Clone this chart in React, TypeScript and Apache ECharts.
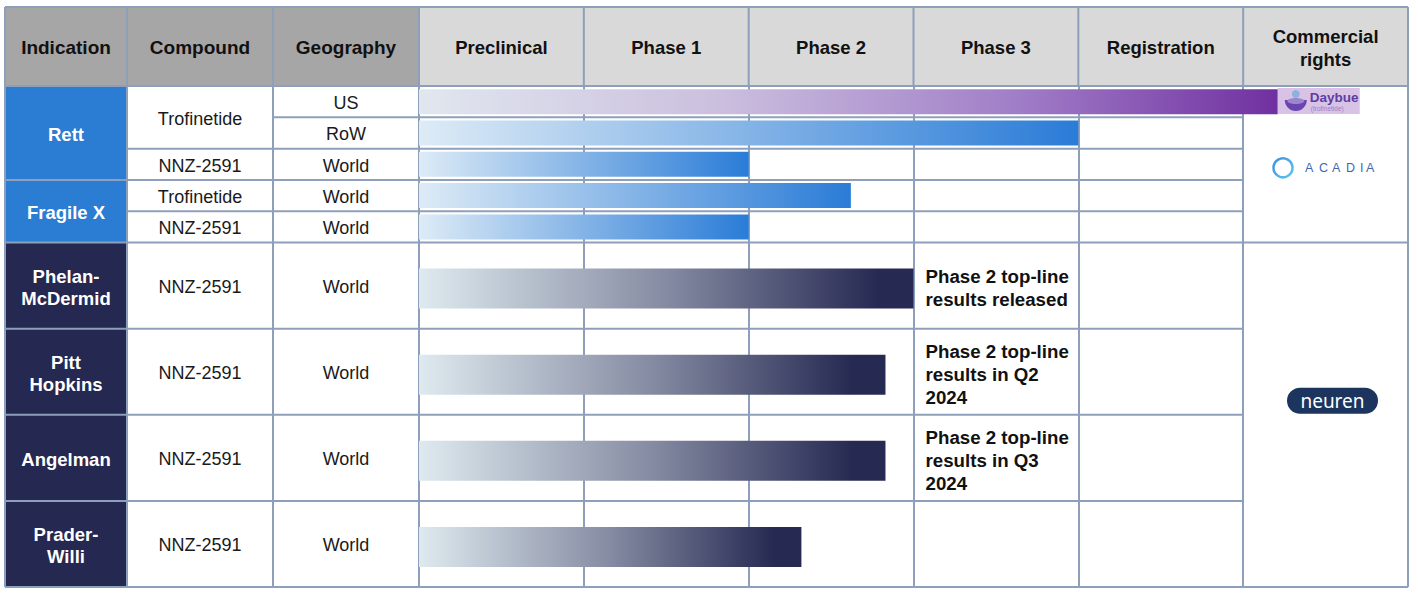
import React, { useEffect, useRef } from "react";
import * as echarts from "echarts";

// ---------- data ----------
const leftHeaders = ["Indication", "Compound", "Geography"];
const phases = ["Preclinical", "Phase 1", "Phase 2", "Phase 3", "Registration", "Commercial\nrights"];
const indications = ["Rett", "Fragile X", "Phelan-\nMcDermid", "Pitt\nHopkins", "Angelman", "Prader-\nWilli"];
const rowIndication = [0, 0, 0, 1, 1, 2, 3, 4, 5];
const rowCompound = ["Trofinetide", "Trofinetide", "NNZ-2591", "Trofinetide", "NNZ-2591", "NNZ-2591", "NNZ-2591", "NNZ-2591", "NNZ-2591"];
const rowGeography = ["US", "RoW", "World", "World", "World", "World", "World", "World", "World"];
const rowPartner = ["Acadia", "Acadia", "Acadia", "Acadia", "Acadia", "Neuren", "Neuren", "Neuren", "Neuren"];
// progress measured in phase columns (0 = start of Preclinical, 5 = start of Commercial)
const rowProgress = [5.21, 4.0, 2.0, 2.62, 2.0, 3.0, 2.83, 2.83, 2.32];
const rowNotes = [
  "", "", "", "", "",
  "Phase 2 top-line\nresults released",
  "Phase 2 top-line\nresults in Q2\n2024",
  "Phase 2 top-line\nresults in Q3\n2024",
  "",
];
const acadiaLetters = ["A", "C", "A", "D", "I", "A"];

// ---------- layout ----------
const W = 1418;
const H = 593;
const XL = [5, 127, 273, 419];
const XR = 1408;
const YT = 7;
const YH = 86;
const YB = 587;
const rowUnits = [1, 1, 1, 1, 1, 2.75, 2.75, 2.75, 2.75];
const totalUnits = rowUnits.reduce((a, b) => a + b, 0);
const unitPx = (YB - YH) / totalUnits;
const rowStart: number[] = [];
{
  let acc = 0;
  rowUnits.forEach((u) => {
    rowStart.push(acc);
    acc += u;
  });
}
const ypx = (u: number) => YH + u * unitPx;
const colW = (XR - XL[3]) / phases.length;
const PX_COMM = XL[3] + colW * 5;
const acadiaX = [1305, 1319, 1332, 1346, 1360, 1366];

const LINE = "#8E9FBB";
const FONT = '"Liberation Sans", Arial, sans-serif';
const partnerFill: Record<string, string> = { Acadia: "#2B7CD3", Neuren: "#252850" };

function buildGraphics() {
  const g: any[] = [];
  const rect = (x: number, y: number, w: number, h: number, fill: string, z = 0, r = 0) =>
    g.push({ type: "rect", z, shape: { x, y, width: w, height: h, r }, style: { fill } });
  const line = (x1: number, y1: number, x2: number, y2: number) =>
    g.push({ type: "line", z: 1, shape: { x1, y1, x2, y2 }, style: { stroke: LINE, lineWidth: 2 } });
  const text = (x: number, y: number, t: string, font: string, fill: string, lh: number, align = "center") =>
    g.push({
      type: "text",
      z: 5,
      style: {
        x, y, text: t, font, fill, lineHeight: lh,
        align, textAlign: align, verticalAlign: "middle", textVerticalAlign: "middle",
      },
    });

  // header backgrounds
  rect(XL[0], YT, XL[3] - XL[0], YH - YT, "#A6A6A6");
  rect(XL[3], YT, XR - XL[3], YH - YT, "#D9D9D9");
  leftHeaders.forEach((h, i) => {
    text((XL[i] + XL[i + 1]) / 2, (YT + YH) / 2 + 1, h, `bold 19px ${FONT}`, "#111", 23);
  });
  phases.forEach((p, i) => {
    text(XL[3] + (i + 0.5) * colW, (YT + YH) / 2 + 1, p, `bold 18.5px ${FONT}`, "#111", 23);
  });

  // indication cells
  indications.forEach((name, k) => {
    const rows = rowIndication.map((v, i) => (v === k ? i : -1)).filter((i) => i >= 0);
    const a = rows[0];
    const b = rows[rows.length - 1];
    const y0 = ypx(rowStart[a]);
    const y1 = ypx(rowStart[b] + rowUnits[b]);
    rect(XL[0], y0, XL[1] - XL[0], y1 - y0, partnerFill[rowPartner[a]]);
    text((XL[0] + XL[1]) / 2, (y0 + y1) / 2 + 1.5, name, `bold 18.5px ${FONT}`, "#fff", 22);
  });

  // compound cells (merge consecutive identical compounds within one indication)
  let i = 0;
  while (i < rowCompound.length) {
    let j = i;
    while (j + 1 < rowCompound.length && rowCompound[j + 1] === rowCompound[i] && rowIndication[j + 1] === rowIndication[i]) j++;
    const y0 = ypx(rowStart[i]);
    const y1 = ypx(rowStart[j] + rowUnits[j]);
    text((XL[1] + XL[2]) / 2, (y0 + y1) / 2 + 1.5, rowCompound[i], `18px ${FONT}`, "#1a1a1a", 22);
    i = j + 1;
  }
  // geography
  rowGeography.forEach((geo, r) => {
    const y0 = ypx(rowStart[r]);
    const y1 = ypx(rowStart[r] + rowUnits[r]);
    text((XL[2] + XL[3]) / 2, (y0 + y1) / 2 + 1.5, geo, `18px ${FONT}`, "#1a1a1a", 22);
  });

  // horizontal lines
  line(XL[0], YT, XR, YT);
  line(XL[0], YH, XR, YH);
  line(XL[0], YB, XR, YB);
  for (let r = 0; r < rowUnits.length - 1; r++) {
    const y = ypx(rowStart[r + 1]);
    if (rowIndication[r] !== rowIndication[r + 1]) line(XL[0], y, XL[1], y);
    const mergedComp = rowCompound[r] === rowCompound[r + 1] && rowIndication[r] === rowIndication[r + 1];
    if (!mergedComp) line(XL[1], y, XL[2], y);
    line(XL[2], y, PX_COMM, y);
    if (rowPartner[r] !== rowPartner[r + 1]) line(PX_COMM, y, XR, y);
  }
  // vertical lines
  [XL[0], XL[1], XL[2]].forEach((x) => line(x, YT, x, YB));
  for (let c = 0; c <= phases.length; c++) line(XL[3] + c * colW, YT, XL[3] + c * colW, YH);
  line(XL[3], YH, XL[3], YB);
  line(XR, YH, XR, YB);

  // Daybue logo
  const dy0 = ypx(rowStart[0]) + 2;
  const dx0 = XL[3] + rowProgress[0] * colW;
  g.push({ type: "rect", z: 6, shape: { x: dx0, y: dy0, width: 82, height: 26 }, style: { fill: "#D8C3E7" } });
  g.push({ type: "circle", z: 7, shape: { cx: dx0 + 18, cy: dy0 + 6, r: 4 }, style: { fill: "#8DB2DC" } });
  g.push({ type: "sector", z: 7, shape: { cx: dx0 + 18, cy: dy0 + 12, r0: 0, r: 11, startAngle: 0, endAngle: Math.PI }, style: { fill: "#6B45AE" } });
  g.push({ type: "ellipse", z: 8, shape: { cx: dx0 + 18, cy: dy0 + 13, rx: 8.5, ry: 3 }, style: { fill: "#9E86CF" } });
  g.push({
    type: "text", z: 7,
    style: { x: dx0 + 32, y: dy0 + 9, text: "Daybue", font: `bold 13.5px ${FONT}`, fill: "#5E3E9E", verticalAlign: "middle", textVerticalAlign: "middle" },
  });
  g.push({
    type: "text", z: 7,
    style: { x: dx0 + 33, y: dy0 + 20, text: "(trofinetide)", font: `6.5px ${FONT}`, fill: "#9C7FC6", verticalAlign: "middle", textVerticalAlign: "middle" },
  });

  // ACADIA logo
  const acY = (ypx(0) + ypx(5)) / 2 + 3.5;
  g.push({
    type: "circle", z: 7, shape: { cx: 1283, cy: acY, r: 9.5 },
    style: {
      fill: "none", lineWidth: 2.5,
      stroke: new echarts.graphic.LinearGradient(0, 0, 1, 1, [
        { offset: 0, color: "#3F8FE0" },
        { offset: 1, color: "#5BC6EE" },
      ]),
    },
  });
  acadiaLetters.forEach((ch, k) => {
    g.push({
      type: "text", z: 7,
      style: { x: acadiaX[k], y: acY + 0.5, text: ch, font: `12.5px ${FONT}`, fill: "#4167B2", verticalAlign: "middle", textVerticalAlign: "middle" },
    });
  });

  // neuren logo
  const nY = (ypx(5) + ypx(totalUnits)) / 2 - 27;
  g.push({ type: "rect", z: 7, shape: { x: 1287, y: nY, width: 91, height: 26, r: 13 }, style: { fill: "#1C355F" } });
  g.push({
    type: "text", z: 8,
    style: {
      x: 1332.5, y: nY + 13, text: "neuren", font: '19px "Noto Sans", "Open Sans", sans-serif', fill: "#fff",
      align: "center", textAlign: "center", verticalAlign: "middle", textVerticalAlign: "middle",
    },
  });
  return g;
}

function gradientFor(progress: number, partner: string) {
  if (progress > 5) {
    return new echarts.graphic.LinearGradient(0, 0, 1, 0, [
      { offset: 0, color: "#E1E7EF" },
      { offset: 0.35, color: "#CBBFDE" },
      { offset: 0.7, color: "#A07DC7" },
      { offset: 1, color: "#7030A0" },
    ]);
  }
  if (partner === "Acadia") {
    return new echarts.graphic.LinearGradient(0, 0, 1, 0, [
      { offset: 0, color: "#DDEBF6" },
      { offset: 1, color: "#2A7CD7" },
    ]);
  }
  return new echarts.graphic.LinearGradient(0, 0, 1, 0, [
    { offset: 0, color: "#DEEAEF" },
    { offset: 0.5, color: "#858BA2" },
    { offset: 0.93, color: "#262952" },
    { offset: 1, color: "#262952" },
  ]);
}

export default function App() {
  const ref = useRef<HTMLDivElement>(null);
  useEffect(() => {
    if (!ref.current) return;
    const chart = echarts.init(ref.current, null, { renderer: "svg" });
    const data = rowProgress.map((v, r) => [v, rowStart[r], rowStart[r] + rowUnits[r], r]);
    chart.setOption({
      animation: false,
      grid: { left: XL[3], top: YH, width: XR - XL[3], height: YB - YH, containLabel: false },
      xAxis: {
        type: "value", min: 0, max: phases.length, interval: 1,
        axisLine: { show: false }, axisTick: { show: false }, axisLabel: { show: false },
        splitLine: { show: true, lineStyle: { color: LINE, width: 2 } },
      },
      yAxis: { type: "value", min: 0, max: totalUnits, inverse: true, show: false },
      graphic: buildGraphics(),
      series: [
        {
          type: "custom",
          z: 3,
          clip: false,
          data,
          renderItem: (params: any, api: any) => {
            const v = api.value(0);
            const y0 = api.value(1);
            const y1 = api.value(2);
            const r = api.value(3);
            const p0 = api.coord([0, y0]);
            const p1 = api.coord([v, y1]);
            const h = p1[1] - p0[1];
            const small = rowUnits[r] <= 1;
            const bh = small ? h * 0.8 : 40;
            const yc = (p0[1] + p1[1]) / 2 + (small ? 0 : 3);
            const children: any[] = [
              {
                type: "rect",
                shape: { x: p0[0], y: yc - bh / 2, width: p1[0] - p0[0], height: bh },
                style: { fill: gradientFor(v, rowPartner[r]) },
              },
            ];
            if (rowNotes[r]) {
              const nx = api.coord([3, y0])[0] + 12;
              children.push({
                type: "text",
                style: {
                  x: nx, y: (p0[1] + p1[1]) / 2 + 2.5, text: rowNotes[r],
                  font: `bold 18.7px ${FONT}`, fill: "#111", lineHeight: 23,
                  align: "left", verticalAlign: "middle",
                },
              });
            }
            return { type: "group", children };
          },
        },
      ],
    });
    return () => chart.dispose();
  }, []);
  return <div ref={ref} style={{ position: "absolute", left: 0, top: 0, width: W, height: H, background: "#fff" }} />;
}
